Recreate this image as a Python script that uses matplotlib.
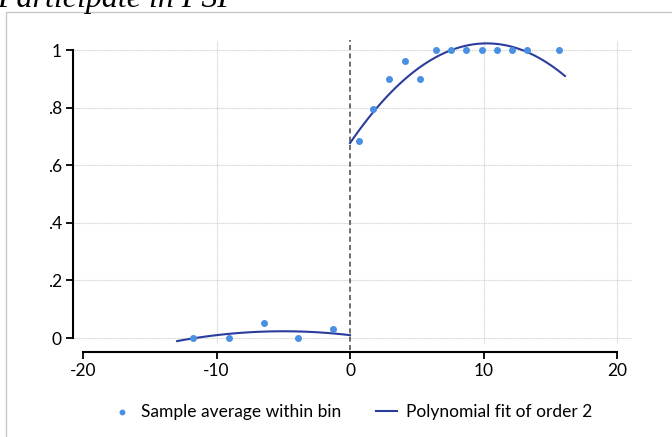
import numpy as np
import matplotlib.pyplot as plt
from matplotlib.patches import Rectangle

# bin averages (left / right of cutoff)
x_izq = [-11.76, -9.07, -6.43, -3.88, -1.25]
y_izq = [0.0, 0.0, 0.051, 0.0, 0.032]
x_der = [0.70, 1.75, 2.92, 4.09, 5.24, 6.42, 7.59, 8.72, 9.89, 11.03, 12.11, 13.28, 15.63]
y_der = [0.684, 0.795, 0.899, 0.961, 0.899, 1.0, 1.0, 1.0, 1.0, 1.0, 1.0, 1.0, 1.0]

# polynomial fit coefficients (a*x^2 + b*x + c)
coef_izq = [-0.00054, -0.0054, 0.010]
coef_der = [-0.0033, 0.0676, 0.677]
rango_izq = (-12.95, 0.0)
rango_der = (0.0, 16.1)

xticks = [-20, -10, 0, 10, 20]
yticks = [0, 0.2, 0.4, 0.6, 0.8, 1.0]
ytick_labels = ["0", ".2", ".4", ".6", ".8", "1"]

color_pts = "#4a90e2"
color_fit = "#2a3d9c"
color_grid = "#d4d4d4"

plt.rcParams["font.family"] = ["Lato", "DejaVu Sans"]
plt.rcParams["axes.unicode_minus"] = False

fig = plt.figure(figsize=(6.72, 4.37), dpi=100)
ax = fig.add_axes([73 / 672, 1 - 343.8 / 437, 559 / 672, (343.8 - 40) / 437])

ax.set_xlim(-20.75, 21.12)
ax.set_ylim(-0.02, 1.035)

# grid
for yv in yticks:
    ax.axhline(yv, color=color_grid, lw=0.8, ls=(0, (1, 0.6)), zorder=0)
for xv in [-10, 10, 20]:
    ax.axvline(xv, color=color_grid, lw=0.8, ls=(0, (1, 0.6)), zorder=0)

# threshold
ax.vlines(0, -0.04, 1.035, colors="#555555", linestyles=(0, (3, 2)), lw=1.2, clip_on=False, zorder=1)

ax.scatter(x_izq, y_izq, s=16, color=color_pts, zorder=3, label="Sample average within bin")
ax.scatter(x_der, y_der, s=16, color=color_pts, zorder=3)

xs = np.linspace(rango_izq[0], rango_izq[1], 100)
ax.plot(xs, np.polyval(coef_izq, xs), color=color_fit, lw=1.5, zorder=2, label="Polynomial fit of order 2")
xs = np.linspace(rango_der[0], rango_der[1], 100)
ax.plot(xs, np.polyval(coef_der, xs), color=color_fit, lw=1.5, zorder=2)

for lado in ["top", "right"]:
    ax.spines[lado].set_visible(False)
ax.spines["left"].set_bounds(0, 1)
ax.spines["bottom"].set_bounds(-20, 20)
ax.spines["bottom"].set_position(("outward", 6))
ax.spines["left"].set_linewidth(1.5)
ax.spines["bottom"].set_linewidth(1.5)

ax.set_xticks(xticks)
ax.set_yticks(yticks)
ax.set_yticklabels(ytick_labels)
ax.tick_params(axis="both", direction="out", length=5, width=1.3, labelsize=12.5, colors="black")
ax.tick_params(axis="y", pad=3)
ax.tick_params(axis="x", pad=3)

fig.legend(loc="center", bbox_to_anchor=(352 / 672, 1 - 412 / 437), ncol=2, frameon=False,
           fontsize=12.5, handlelength=1.2, columnspacing=2.0, handletextpad=0.5, markerscale=0.8)

# outer frame
fig.patches.append(Rectangle((6 / 672, -0.1), 1.2, 1 - 12 / 437 + 0.1, transform=fig.transFigure,
                             fill=False, edgecolor="#c8c8c8", lw=1.0))

fig.text(-0.004, 1 - 7 / 437, "Participate in PSP", fontsize=23, style="italic",
         family="Liberation Serif", va="baseline", ha="left")

fig.savefig("out.png", dpi=100)
